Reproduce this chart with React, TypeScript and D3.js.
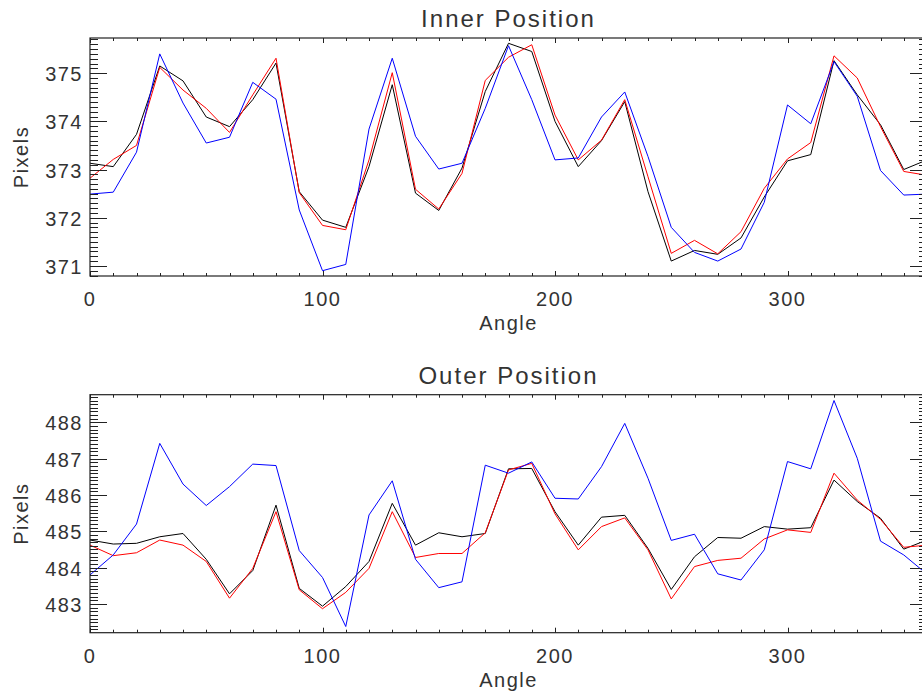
import * as d3 from "d3";
import { useEffect, useRef } from "react";

const angles = d3.range(0, 361, 10);

// Inner position (pixels)
const innerBlack = [373.13, 373.06, 373.73, 375.15, 374.84, 374.09, 373.89, 374.45, 375.21, 372.54, 371.95, 371.80, 373.06, 374.76, 372.51, 372.15, 373.03, 374.62, 375.62, 375.45, 374.00, 373.06, 373.60, 374.41, 372.54, 371.10, 371.32, 371.24, 371.58, 372.43, 373.18, 373.31, 375.26, 374.55, 373.93, 373.00, 373.20];
const innerRed = [372.82, 373.21, 373.50, 375.12, 374.65, 374.27, 373.77, 374.55, 375.31, 372.52, 371.84, 371.75, 373.20, 375.01, 372.59, 372.18, 372.92, 374.85, 375.33, 375.59, 374.13, 373.20, 373.61, 374.45, 372.85, 371.26, 371.53, 371.25, 371.71, 372.61, 373.22, 373.56, 375.36, 374.90, 373.89, 372.96, 372.88];
const innerBlue = [372.49, 372.53, 373.36, 375.40, 374.38, 373.55, 373.67, 374.81, 374.46, 372.16, 370.90, 371.03, 373.84, 375.31, 373.69, 373.01, 373.13, 374.27, 375.57, 374.45, 373.20, 373.24, 374.09, 374.61, 373.27, 371.80, 371.28, 371.10, 371.35, 372.32, 374.34, 373.95, 375.24, 374.52, 372.98, 372.47, 372.49];

// Outer position (pixels)
const outerBlack = [484.76, 484.65, 484.67, 484.85, 484.94, 484.23, 483.28, 483.92, 485.72, 483.43, 482.94, 483.48, 484.17, 485.77, 484.62, 484.96, 484.85, 484.94, 486.72, 486.73, 485.54, 484.62, 485.39, 485.44, 484.53, 483.40, 484.30, 484.83, 484.81, 485.13, 485.06, 485.10, 486.41, 485.82, 485.36, 484.51, 484.76];
const outerRed = [484.62, 484.33, 484.41, 484.76, 484.62, 484.17, 483.16, 483.98, 485.54, 483.39, 482.87, 483.32, 483.98, 485.54, 484.28, 484.39, 484.39, 484.96, 486.69, 486.87, 485.48, 484.49, 485.13, 485.37, 484.49, 483.14, 484.03, 484.20, 484.26, 484.79, 485.04, 484.97, 486.60, 485.86, 485.33, 484.56, 484.62];
const outerBlue = [483.80, 484.35, 485.20, 487.42, 486.30, 485.71, 486.23, 486.85, 486.81, 484.47, 483.73, 482.38, 485.45, 486.39, 484.23, 483.45, 483.61, 486.82, 486.60, 486.91, 485.91, 485.89, 486.78, 487.97, 486.46, 484.75, 484.92, 483.83, 483.66, 484.49, 486.92, 486.72, 488.60, 487.01, 484.73, 484.35, 483.82];

const panels = [
  { title: "Inner Position", top: 38, bottom: 276, yDomain: [370.79, 375.73], series: [innerBlack, innerRed, innerBlue] },
  { title: "Outer Position", top: 394.7, bottom: 632.7, yDomain: [482.21, 488.76], series: [outerBlack, outerRed, outerBlue] }
];

const colors = ["#000000", "#ff0000", "#0000ff"];

const W = 922;
const H = 700;
const left = 90;
const right = 927;
const font = "'Liberation Sans', Arial, sans-serif";
const textColor = "#333";

const App = () => {
  const ref = useRef(null);

  useEffect(() => {
    const svg = d3.select(ref.current);
    svg.selectAll("*").remove();

    const x = d3.scaleLinear().domain([0, 360]).range([left, right]);
    const cx = (left + right) / 2;

    svg.append("rect").attr("width", W).attr("height", H).attr("fill", "white");

    panels.forEach((p, pi) => {
      const y = d3.scaleLinear().domain(p.yDomain).range([p.bottom, p.top]);
      const g = svg.append("g");

      const clipId = `clip-${pi}`;
      svg.append("clipPath").attr("id", clipId)
        .append("rect")
        .attr("x", left).attr("y", p.top)
        .attr("width", right - left).attr("height", p.bottom - p.top);

      // lines
      const line = d3.line<number>()
        .x((d, i) => x(angles[i]))
        .y(d => y(d));

      p.series.forEach((s, si) => {
        g.append("path")
          .datum(s)
          .attr("d", line)
          .attr("fill", "none")
          .attr("stroke", colors[si])
          .attr("stroke-width", 1)
          .attr("clip-path", `url(#${clipId})`);
      });

      // frame
      g.append("rect")
        .attr("x", left).attr("y", p.top)
        .attr("width", right - left).attr("height", p.bottom - p.top)
        .attr("fill", "none")
        .attr("stroke", "#222")
        .attr("stroke-width", 1.2);

      // x ticks (top and bottom)
      const xMinor = d3.range(0, 361, 10);
      xMinor.forEach(v => {
        const major = v % 100 === 0;
        const len = major ? 5 : 3;
        const xx = Math.round(x(v)) + 0.5;
        g.append("line").attr("x1", xx).attr("x2", xx)
          .attr("y1", p.bottom).attr("y2", p.bottom - len)
          .attr("stroke", "#222");
        g.append("line").attr("x1", xx).attr("x2", xx)
          .attr("y1", p.top).attr("y2", p.top + len)
          .attr("stroke", "#222");
      });

      // y ticks (left and right)
      const [y0, y1] = p.yDomain;
      const yMinor = d3.range(Math.ceil(y0 * 10), Math.floor(y1 * 10) + 1).map(v => v / 10);
      yMinor.forEach(v => {
        const major = Math.abs(v - Math.round(v)) < 1e-6;
        const len = major ? 17 : 8;
        const yy = Math.round(y(v)) + 0.5;
        g.append("line").attr("x1", left).attr("x2", left + len)
          .attr("y1", yy).attr("y2", yy)
          .attr("stroke", "#222");
        g.append("line").attr("x1", right).attr("x2", right - len)
          .attr("y1", yy).attr("y2", yy)
          .attr("stroke", "#222");
      });

      // y tick labels
      d3.range(Math.ceil(y0), Math.floor(y1) + 1).forEach(v => {
        g.append("text")
          .attr("x", left - 7)
          .attr("y", y(v) + 8)
          .attr("text-anchor", "end")
          .attr("font-family", font)
          .attr("font-size", 20)
          .attr("letter-spacing", 1.5)
          .attr("fill", textColor)
          .text(v);
      });

      // x tick labels
      [0, 100, 200, 300].forEach(v => {
        g.append("text")
          .attr("x", x(v))
          .attr("y", p.bottom + 30)
          .attr("text-anchor", "middle")
          .attr("font-family", font)
          .attr("font-size", 20)
          .attr("letter-spacing", 1.5)
          .attr("fill", textColor)
          .text(v);
      });

      // title
      g.append("text")
        .attr("x", cx)
        .attr("y", p.top - 11)
        .attr("text-anchor", "middle")
        .attr("font-family", font)
        .attr("font-size", 24)
        .attr("letter-spacing", 2)
        .attr("fill", textColor)
        .text(p.title);

      // axis titles
      g.append("text")
        .attr("x", cx)
        .attr("y", p.bottom + 54)
        .attr("text-anchor", "middle")
        .attr("font-family", font)
        .attr("font-size", 20)
        .attr("letter-spacing", 1.5)
        .attr("fill", textColor)
        .text("Angle");

      g.append("text")
        .attr("transform", `translate(28, ${(p.top + p.bottom) / 2}) rotate(-90)`)
        .attr("text-anchor", "middle")
        .attr("font-family", font)
        .attr("font-size", 20)
        .attr("letter-spacing", 1.5)
        .attr("fill", textColor)
        .text("Pixels");
    });
  }, []);

  return (
    <svg
      ref={ref}
      width={W}
      height={H}
      style={{ position: "absolute", left: 0, top: 0, display: "block" }}
    ></svg>
  );
};

export default App;
